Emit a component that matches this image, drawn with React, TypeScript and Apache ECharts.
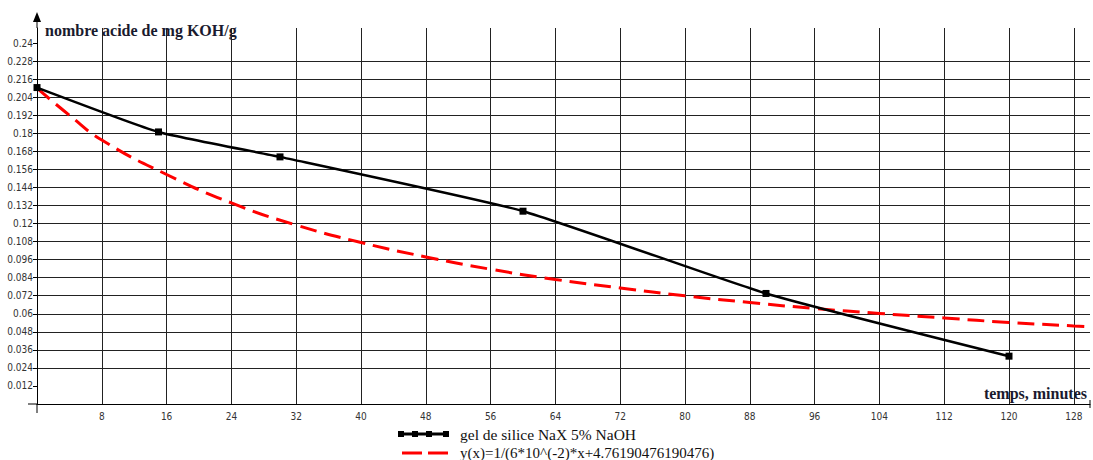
import React, { useEffect, useRef } from "react";
import * as echarts from "echarts";

const measuredX = [0, 15, 30, 60, 90, 120];
const measuredY = [0.2104, 0.1809, 0.1643, 0.1282, 0.0735, 0.0318];

const fitX = [0, 4, 8, 16, 24, 32, 40, 48, 56, 64, 72, 80, 88, 96, 104, 112, 120, 128, 130];
const fitY = [0.21, 0.192, 0.1755, 0.1526, 0.1337, 0.119, 0.1074, 0.0978, 0.0896, 0.0828, 0.0772, 0.0719, 0.0675, 0.0635, 0.0602, 0.0572, 0.0542, 0.0519, 0.0514];

const xTicks = [8, 16, 24, 32, 40, 48, 56, 64, 72, 80, 88, 96, 104, 112, 120, 128];
const yTicks = [0.012, 0.024, 0.036, 0.048, 0.06, 0.072, 0.084, 0.096, 0.108, 0.12, 0.132, 0.144, 0.156, 0.168, 0.18, 0.192, 0.204, 0.216, 0.228, 0.24];

const seriesNames = ["gel de silice NaX 5% NaOH", "y(x)=1/(6*10^(-2)*x+4.76190476190476)"];
const yTitle = "nombre acide de mg KOH/g";
const xTitle = "temps, minutes";

const W = 1093;
const H = 460;
const G = { left: 37, top: 28, right: 3, bottom: 56 };
const tickFont = "'Liberation Sans Narrow', 'DejaVu Sans Condensed', 'Liberation Sans', Arial, sans-serif";
const serif = "'Liberation Serif', 'Times New Roman', serif";

export default function App() {
  const ref = useRef<HTMLDivElement>(null);
  useEffect(() => {
    if (!ref.current) return;
    const chart = echarts.init(ref.current, undefined, { renderer: "svg" });
    const axisY0 = H - G.bottom;
    const legendX = 398;
    chart.setOption({
      animation: false,
      backgroundColor: "#fff",
      grid: { left: G.left, top: G.top, right: G.right, bottom: G.bottom, containLabel: false },
      xAxis: {
        type: "value",
        min: 0,
        max: 130,
        interval: 8,
        axisLine: { show: true, onZero: false, lineStyle: { color: "#000", width: 1 } },
        axisTick: { show: false },
        axisLabel: {
          customValues: xTicks,
          margin: 7,
          fontSize: 10,
          fontFamily: tickFont,
          color: "#333",
        },
        splitLine: { show: true, showMaxLine: false, showMinLine: false, lineStyle: { color: "#222", width: 1 } },
      },
      yAxis: {
        type: "value",
        min: 0,
        max: 0.25,
        interval: 0.012,
        axisLine: { show: true, onZero: false, lineStyle: { color: "#000", width: 1 } },
        axisTick: { show: true, customValues: yTicks, length: 4, lineStyle: { color: "#000" } },
        axisLabel: {
          customValues: yTicks,
          margin: 4,
          fontSize: 10,
          fontFamily: tickFont,
          color: "#333",
          formatter: (v: number) => String(+v.toFixed(3)),
        },
        splitLine: { show: true, showMaxLine: false, showMinLine: false, lineStyle: { color: "#222", width: 1 } },
      },
      series: [
        {
          name: seriesNames[0],
          type: "line",
          data: measuredX.map((x, i) => [x, measuredY[i]]),
          smooth: 0.15,
          symbol: "rect",
          symbolSize: 7,
          itemStyle: { color: "#000" },
          lineStyle: { color: "#000", width: 2.5 },
          z: 3,
        },
        {
          name: seriesNames[1],
          type: "line",
          data: fitX.map((x, i) => [x, fitY[i]]),
          smooth: true,
          showSymbol: false,
          symbol: "none",
          lineStyle: { color: "#ff0000", width: 3, type: [17, 8] },
          z: 2,
        },
      ],
      graphic: [
        { type: "line", shape: { x1: G.left, y1: axisY0, x2: G.left, y2: axisY0 + 9 }, style: { stroke: "#000", lineWidth: 1 } },
        { type: "line", shape: { x1: G.left - 9, y1: axisY0, x2: G.left, y2: axisY0 }, style: { stroke: "#000", lineWidth: 1 } },
        { type: "line", shape: { x1: G.left, y1: G.top, x2: G.left, y2: 20 }, style: { stroke: "#000", lineWidth: 1 } },
        { type: "polygon", shape: { points: [[G.left - 4, 22], [G.left + 4, 22], [G.left, 12]] }, style: { fill: "#000" } },
        { type: "line", shape: { x1: W - 3, y1: axisY0 - 4, x2: W - 3, y2: axisY0 + 4 }, style: { stroke: "#000", lineWidth: 1 } },
        {
          type: "text",
          x: 45,
          y: 30,
          style: { text: yTitle, font: `bold 16px ${serif}`, fill: "#1a1a2e", textVerticalAlign: "middle", textAlign: "left" },
        },
        {
          type: "text",
          x: 1087,
          y: 393,
          style: { text: xTitle, font: `bold 16px ${serif}`, fill: "#1a1a2e", textVerticalAlign: "middle", textAlign: "right" },
        },
        // legend row 1
        { type: "line", shape: { x1: legendX, y1: 434, x2: legendX + 50, y2: 434 }, style: { stroke: "#000", lineWidth: 3 } },
        { type: "rect", shape: { x: legendX, y: 431, width: 6, height: 6 }, style: { fill: "#000" } },
        { type: "rect", shape: { x: legendX + 14, y: 431, width: 6, height: 6 }, style: { fill: "#000" } },
        { type: "rect", shape: { x: legendX + 28, y: 431, width: 6, height: 6 }, style: { fill: "#000" } },
        { type: "rect", shape: { x: legendX + 45, y: 431, width: 6, height: 6 }, style: { fill: "#000" } },
        {
          type: "text",
          x: 460,
          y: 434,
          style: { text: seriesNames[0], font: `15.5px ${serif}`, fill: "#111", textVerticalAlign: "middle" },
        },
        // legend row 2
        { type: "line", shape: { x1: legendX + 4, y1: 453, x2: legendX + 24, y2: 453 }, style: { stroke: "#ff0000", lineWidth: 3 } },
        { type: "line", shape: { x1: legendX + 30, y1: 453, x2: legendX + 50, y2: 453 }, style: { stroke: "#ff0000", lineWidth: 3 } },
        {
          type: "text",
          x: 460,
          y: 453,
          style: { text: seriesNames[1], font: `15px ${serif}`, fill: "#111", textVerticalAlign: "middle" },
        },
      ],
    });
    return () => chart.dispose();
  }, []);
  return <div ref={ref} style={{ position: "absolute", left: 0, top: 0, width: W, height: H }} />;
}
